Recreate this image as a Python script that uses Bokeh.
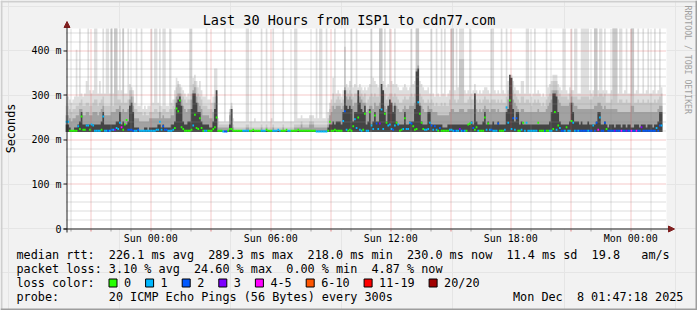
import math
import re
import numpy as np
import pandas as pd
from bokeh.plotting import figure
from bokeh.models import Arrow, NormalHead, ColumnDataSource
from bokeh.core.properties import value
from bokeh.embed import file_html
from bokeh.resources import INLINE

# ---------------------------------------------------------------- data
TITLE = "Last 30 Hours from ISP1 to cdn77.com"
END_TIME = "2025-12-08 01:47:18"
FIRST_SLOT = "2025-12-06 19:45:00"
WINDOW_HOURS = 30
STEP_SECONDS = 300
Y_MAX_MS = 450

Y_TICKS_MS = [0, 100, 200, 300, 400]
Y_TICK_LABELS = ["0", "100 m", "200 m", "300 m", "400 m"]
X_LABEL_TIMES = ["2025-12-07 00:00", "2025-12-07 06:00", "2025-12-07 12:00",
                 "2025-12-07 18:00", "2025-12-08 00:00"]
X_TICK_LABELS = ["Sun 00:00", "Sun 06:00", "Sun 12:00", "Sun 18:00", "Mon 00:00"]
GRID_HOURS = ("2025-12-06 20:00", "2025-12-08 01:00")

LOSS_COLORS = ["#26ff00", "#00b8ff", "#0059ff", "#7e00ff", "#ff00ff", "#ff5500", "#ff0000", "#a10000"]
LOSS_LABELS = ["0", "1", "2", "3", "4-5", "6-10", "11-19", "20/20"]

MEDIAN_RTT = ["226.1 ms avg", "289.3 ms max", "218.0 ms min", "230.0 ms now", "11.4 ms sd", "19.8   am/s"]
PACKET_LOSS = ["3.10 % avg", "24.60 % max", "0.00 % min", "4.87 % now"]
PROBE = "20 ICMP Echo Pings (56 Bytes) every 300s"
STAMP = "Mon Dec  8 01:47:18 2025"

# one character per 5-minute slot, 10 blocks of 3 hours ('.' = no data)
CODE = "0123456789abcdefghijklmnopqrstuvwxyz"
# smoke heights: 220 ms + 7 ms per code step
SMOKE_TOP = [
    "bba9abqbzc" "bcgzdcdzzc" "gczczzczcz" "zdzdzc",
    "czfed9z88z" "78788z9zz9" "z8zz88z9ad" "hgfedc",
    "bczzhigegd" "bbzaa9bkk4" "333z337943" "333333",
    "zz3334333z" "33z334z333" "33z333333z" "z44544",
    "445554z4zz" "44z69ahzcd" "cbdzfegzef" "zefede",
    "defzhgfezz" "gzefzgfzfe" "ddefedezfg" "zzgfed",
    "deczcbzcbz" "czbcdzzdze" "zzzdcdzcdf" "dcdcde",
    "edczzdcdcz" "dczghigedd" "cggczzcbcz" "cdcbcb",
    "zefgiiifed" "zzdcezdzzc" "czzzzzdcdz" "zdzzdz",
    "dccdzzzczz" "cdzcczzcdz" "cczcdzccdz" "cdze..",
]
SMOKE_UPPER = [
    "887677889a" "8899889aa8" "9ab8888z8z" "zaa9z9",
    "9addb77666" "5655666776" "867766778a" "efecba",
    "9aacfgecba" "8887779bd3" "2222226821" "111111",
    "2211111112" "1121112111" "1121111112" "222322",
    "2233322222" "222478c9ab" "a9ardcdcbc" "ccdcbc",
    "9abcbcbbzz" "ccabccbcba" "99abaabcbc" "zzcba9",
    "9a9a989889" "8988azza9a" "nnn99abaac" "a9a9ab",
    "aa9aaa9a9a" "99bdefdcba" "9bb9aa989a" "9a9898",
    "abcdgggdcb" "bbbacdbbba" "abbbbbaabz" "zbccbc",
    "999azzz9aa" "99a99zz99a" "99a99a999a" "9abc..",
]
SMOKE_MID = [
    "5543445577" "5566556665" "6785555666" "778676",
    "67ab844433" "3333444444" "6454444557" "bcca87",
    "677adeb987" "55554469b1" "1111115710" "000000",
    "1100000001" "0010001000" "0010000001" "111211",
    "1122211111" "1112568788" "878ebaba89" "9aba99",
    "678879889a" "9878998987" "6678778889" "kl9876",
    "6877666555" "5555677666" "7776677779" "767678",
    "7767776766" "668abca987" "6776666666" "676666",
    "789addda98" "88889b9887" "7777777778" "899878",
    "7777777666" "6666688666" "6666666666" "6788..",
]
SMOKE_DARK = [
    "2210011236" "2222222222" "2362222222" "336232",
    "2389611100" "0110111112" "2121111223" "9ab832",
    "2337cc9663" "22221137d0" "0000002700" "000000",
    "0000000000" "0000000000" "0000000000" "000000",
    "0000000000" "0001223233" "326d878736" "6d9768",
    "237236337f" "d638a96832" "2226223337" "jk8322",
    "2662222222" "1112222222" "222222232c" "322236",
    "2322322322" "2267ih7366" "2322222222" "222222",
    "2236ccb632" "2222396333" "2322232222" "366223",
    "2122212221" "2212211222" "1222122212" "2366..",
]
# median rtt: 218 ms + 2 ms per code step
MEDIAN = [
    "bb1111163h" "2277287111" "12h1111222" "43a528",
    "d222111211" "1111111122" "b262211124" "qnz531",
    "11127j43f4" "11111135g1" "1100013311" "111111",
    "1111211111" "1121111112" "1111211111" "121111",
    "1111110000" "0001b11211" "11cn21216e" "4g212k",
    "11m73i939p" "3ka78327a8" "123f33a962" "3xka32",
    "23a7262141" "1111221111" "3111189a42" "51111g",
    "2922111911" "12raz3f2f1" "12a1a11111" "1a1111",
    "11113m2741" "11511ca111" "1111111171" "a2g11a",
    "3111111111" "1111111111" "1511111111" "4177..",
]
# lost pings out of 20
LOSS = [
    "1100000100" "0011011111" "1011121213" "111400",
    "0222211211" "1111111111" "1122211110" "000000",
    "0000100000" "0110000000" "0012200000" "000011",
    "1100000001" "1100001111" "1000011000" "000000",
    "0000001111" "1110000000" "0012100001" "101100",
    "1101102131" "1001112101" "0010111200" "010001",
    "1112121020" "0000111211" "3121000120" "010000",
    "1012111200" "0111012120" "0101111111" "100002",
    "0011001012" "2101101121" "2222212212" "241222",
    "0222232224" "2232242242" "2322222222" "1221..",
]
SMOKE_FLOOR_MS = 217


def decode(blocks, base, step):
    for b in blocks:
        assert len(b) == 36, (b, len(b))
    s = "".join(blocks)
    return np.array([np.nan if c == "." else base + step * CODE.index(c) for c in s], dtype=float)


top = decode(SMOKE_TOP, 220, 7)
upper = decode(SMOKE_UPPER, 220, 7)
mid = decode(SMOKE_MID, 220, 7)
dark = decode(SMOKE_DARK, 220, 7)
med = decode(MEDIAN, 218, 2)
loss = decode(LOSS, 0, 1)


def bucket(n):
    if n <= 3:
        return int(n)
    if n <= 5:
        return 4
    if n <= 10:
        return 5
    if n <= 19:
        return 6
    return 7


def to_ms(ts):
    return float(pd.Timestamp(ts).value // 10**6)


X_END = to_ms(END_TIME)
X_START = X_END - WINDOW_HOURS * 3600 * 1000
slot0 = to_ms(FIRST_SLOT)
step_ms = STEP_SECONDS * 1000.0
t = slot0 + np.arange(len(med)) * step_ms
valid = ~np.isnan(med)

# ---------------------------------------------------------------- layout
W, H = 697, 310
FL, FR, FT, FB = 66, 666, 28, 228          # chart canvas edges in pixels
PX_X = (X_END - X_START) / (FR - FL)        # time per pixel
PX_Y = Y_MAX_MS / (FB - FT)                 # rtt per pixel
XL = X_START - FL * PX_X
XR = XL + W * PX_X
YT = Y_MAX_MS + FT * PX_Y
YB = YT - H * PX_Y
MONO = "DejaVu Sans Mono"
BACK = "#f2f2f2"


def dx(cx):
    return XL + cx * PX_X


def dy(cy):
    return YT - cy * PX_Y


def snap_x(v):
    return XL + (math.floor((v - XL) / PX_X + 1e-6) + 0.5) * PX_X


def snap_y(v):
    return YT - (math.floor((YT - v) / PX_Y + 1e-6) + 0.5) * PX_Y


p = figure(width=W, height=H, x_range=(XL, XR), y_range=(YB, YT),
           x_axis_location=None, y_axis_location=None, min_border=0,
           output_backend="svg", toolbar_location=None, title=None,
           background_fill_color=BACK, border_fill_color=BACK, outline_line_color=None)

# 3-D frame of the image
p.quad(left=[dx(0), dx(0)], right=[dx(W), dx(2)], top=[dy(0), dy(0)], bottom=[dy(2), dy(H)],
       fill_color="#cfcfcf", line_color=None)
p.quad(left=[dx(0), dx(W - 2)], right=[dx(W), dx(W)], top=[dy(H - 2), dy(0)], bottom=[dy(H), dy(H)],
       fill_color="#9e9e9e", line_color=None)

# chart canvas
p.quad(left=[X_START], right=[X_END], bottom=[0], top=[Y_MAX_MS], fill_color="#ffffff", line_color=None)

# smoke
tv = t[valid]
xs = np.append(tv, tv[-1] + step_ms)
shades = [(top, "#dedede"), (upper, "#c8c8c8"), (mid, "#a2a2a2"), (dark, "#444444")]
for arr, col in shades:
    ys = arr[valid]
    ys = np.append(ys, ys[-1])
    src = ColumnDataSource(dict(x=xs, y1=np.full(len(xs), SMOKE_FLOOR_MS), y2=np.minimum(ys, Y_MAX_MS)))
    p.varea_step(x="x", y1="y1", y2="y2", step_mode="after", fill_color=col, source=src)

# grid (drawn over the smoke, like rrdtool)
hours = pd.date_range(GRID_HOURS[0], GRID_HOURS[1], freq="1h")
hour_ms = [to_ms(h) for h in hours]
major_ms = [to_ms(h) for h in hours if h.hour % 3 == 0]
minor_ms = [v for v in hour_ms if v not in major_ms]
y_minor = [v for v in range(20, Y_MAX_MS, 20) if v % 100]
y_major = [v for v in range(100, Y_MAX_MS, 100)]
for ticks, col, alpha in [(minor_ms, "#8f8f8f", 0.6), (major_ms, "#de4f4f", 0.6)]:
    xv = [snap_x(v) for v in ticks]
    p.segment(x0=xv, x1=xv, y0=[0] * len(xv), y1=[Y_MAX_MS] * len(xv),
              line_color=col, line_alpha=alpha, line_width=1, line_dash="1 1")
for ticks, col, alpha in [(y_minor, "#8f8f8f", 0.6), (y_major, "#de4f4f", 0.6)]:
    yv = [snap_y(v) for v in ticks]
    p.segment(x0=[X_START] * len(yv), x1=[X_END] * len(yv), y0=yv, y1=yv,
              line_color=col, line_alpha=alpha, line_width=1, line_dash="1 1")

# median line coloured by loss
mcols = [LOSS_COLORS[bucket(n)] for n in loss[valid]]
msrc = ColumnDataSource(dict(x0=tv, x1=tv + step_ms, y=med[valid], c=mcols))
p.segment(x0="x0", y0="y", x1="x1", y1="y", line_color="c", line_width=2, source=msrc)

# axes with arrows
AXIS = "#1f1f1f"
ARROW = "#801f1f"
ax_x = snap_x(X_START)
ax_y = snap_y(0)
p.add_layout(Arrow(end=NormalHead(size=6, fill_color=ARROW, line_color=ARROW, line_width=1),
                   x_start=ax_x, y_start=dy(232), x_end=ax_x, y_end=dy(21),
                   line_color=AXIS, line_width=1))
p.add_layout(Arrow(end=NormalHead(size=6, fill_color=ARROW, line_color=ARROW, line_width=1),
                   x_start=dx(63), y_start=ax_y, x_end=dx(674), y_end=ax_y,
                   line_color=AXIS, line_width=1))

# ticks
yt = [snap_y(v) for v in Y_TICKS_MS]
p.segment(x0=[dx(63)] * len(yt), x1=[ax_x] * len(yt), y0=yt, y1=yt, line_color=AXIS, line_width=1)
xm = [snap_x(v) for v in minor_ms]
p.segment(x0=xm, x1=xm, y0=[dy(229)] * len(xm), y1=[dy(231)] * len(xm), line_color="#a0a0a0", line_width=1)
xM = [snap_x(v) for v in major_ms]
p.segment(x0=xM, x1=xM, y0=[dy(229)] * len(xM), y1=[dy(231)] * len(xM), line_color="#e08080", line_width=1)

# tick labels
p.text(x=[dx(61)] * len(Y_TICKS_MS), y=Y_TICKS_MS, text=Y_TICK_LABELS,
       text_font=value(MONO), text_font_size=value("10px"), text_align="right",
       text_baseline="middle", text_color="#000000")
p.text(x=[to_ms(s) for s in X_LABEL_TIMES], y=[dy(237.7)] * len(X_TICK_LABELS), text=X_TICK_LABELS,
       text_font=value(MONO), text_font_size=value("10px"), text_align="center",
       text_baseline="middle", text_color="#000000")


def put(texts, xs_px, ys_px, size, align="left", angle=0.0, color="#000000"):
    p.text(x=[dx(v) for v in xs_px], y=[dy(v) for v in ys_px], text=texts,
           text_font=value(MONO), text_font_size=value(f"{size}px"), text_align=align,
           text_baseline="middle", angle=angle, text_color=color)


LEG_SIZE = 11.8
CW = 7.1
LX = 16


def put_row(s, cy, x0=LX):
    toks = [(m.start(), m.group()) for m in re.finditer(r"\S+(?: \S+)*", s)]
    put([tk for _, tk in toks], [x0 + i * CW for i, _ in toks], [cy] * len(toks), LEG_SIZE)


put([TITLE], [W / 2], [19.5], 13.5, align="center")
put(["Seconds"], [10.5], [128], LEG_SIZE, align="center", angle=math.pi / 2)
put(["RRDTOOL / TOBI OETIKER"], [687.5], [5], 8.2, angle=-math.pi / 2, color="#a0a0a0")

put_row("median rtt:  " + "  ".join(MEDIAN_RTT), 254.2)
put_row("packet loss: " + "  ".join(PACKET_LOSS), 268.2)
put_row("loss color:", 282.2)
put_row("probe:       " + PROBE, 296.0)
put_row(STAMP, 296.0, x0=512.5)

# loss colour legend boxes
bxs, lxs = [], []
bx = 108.5
for lab in LOSS_LABELS:
    bxs.append(bx)
    lxs.append(bx + 15)
    bx += 15 + CW * len(lab) + 14.5
p.quad(left=[dx(b) for b in bxs], right=[dx(b + 8) for b in bxs],
       top=[dy(278.5)] * len(bxs), bottom=[dy(286.5)] * len(bxs),
       fill_color=LOSS_COLORS, line_color="#000000", line_width=1)
put(LOSS_LABELS, lxs, [282.2] * len(lxs), LEG_SIZE)

open("out.html", "w").write(file_html(p, INLINE))
